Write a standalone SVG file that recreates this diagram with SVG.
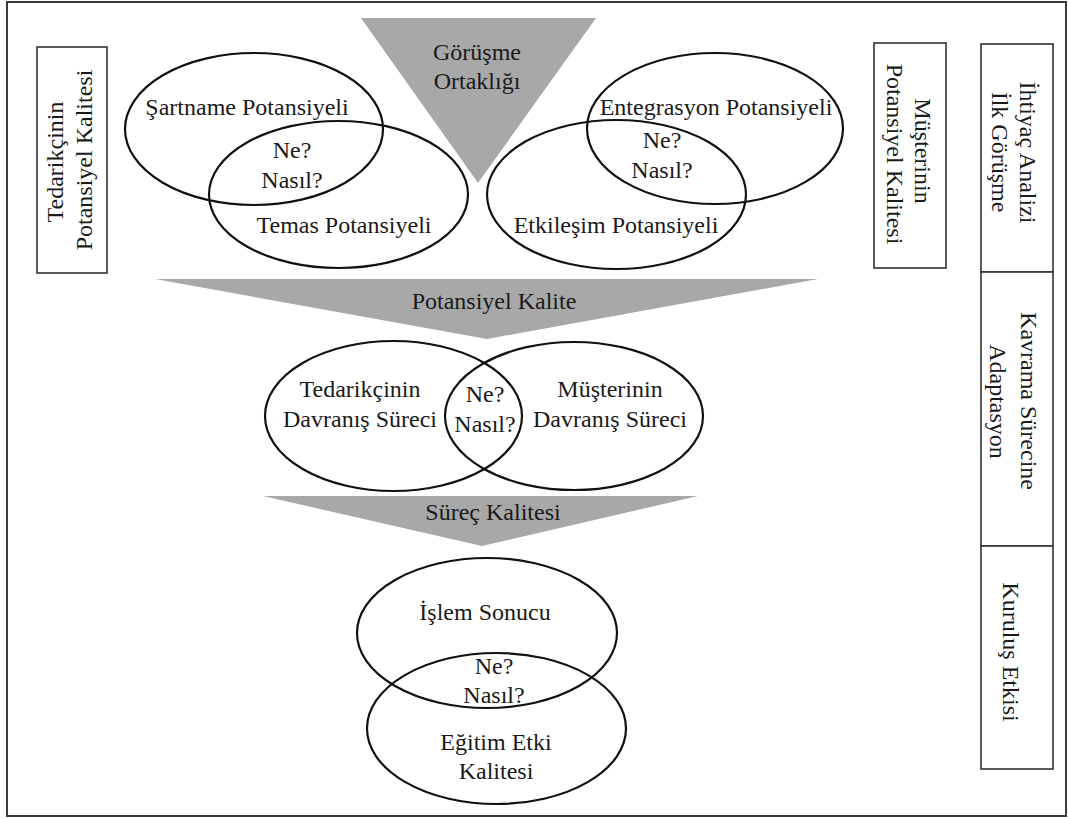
<svg xmlns="http://www.w3.org/2000/svg" width="1068" height="818" viewBox="0 0 1068 818">
<style>
text{font-family:"Liberation Serif","Times New Roman",serif;font-size:24px;fill:#1a1a1a;text-anchor:middle}
.ell{fill:none;stroke:#111;stroke-width:2.2}
.box{fill:#fff;stroke:#333;stroke-width:1.6}
.band{fill:#a8a8a8;stroke:none}
</style>
<rect x="7" y="2" width="1059" height="814" fill="#fff" stroke="#3a3a3a" stroke-width="2"/>
<g id="connectors"/>
<g id="gorusme-ortakligi">
<polygon class="band" points="361,18 596,18 478,183"/>
<text x="477" y="60">Görüşme</text>
<text x="477" y="89">Ortaklığı</text>
</g>
<g id="tedarikcinin-box">
<rect class="box" x="37" y="47" width="70" height="226"/>
<text transform="translate(63,162) rotate(-90)">Tedarikçinin</text>
<text transform="translate(92,160) rotate(-90)">Potansiyel Kalitesi</text>
</g>
<g id="sartname">
<ellipse class="ell" cx="254" cy="129" rx="129" ry="76"/>
<text x="247" y="115">Şartname Potansiyeli</text>
</g>
<g id="temas">
<ellipse class="ell" cx="338.5" cy="194.5" rx="129.5" ry="73.5"/>
<text x="344" y="233">Temas Potansiyeli</text>
</g>
<g id="ne-nasil-left">
<text x="292" y="158">Ne?</text>
<text x="292" y="188">Nasıl?</text>
</g>
<g id="entegrasyon">
<ellipse class="ell" cx="715" cy="128.5" rx="128" ry="75.5"/>
<text x="716" y="115">Entegrasyon Potansiyeli</text>
</g>
<g id="etkilesim">
<ellipse class="ell" cx="616.5" cy="194.5" rx="129.5" ry="74.5"/>
<text x="616" y="233">Etkileşim Potansiyeli</text>
</g>
<g id="ne-nasil-right">
<text x="662" y="148">Ne?</text>
<text x="662" y="178">Nasıl?</text>
</g>
<g id="musterinin-box">
<rect class="box" x="874" y="43" width="72" height="225"/>
<text transform="translate(915,151) rotate(90)">Müşterinin</text>
<text transform="translate(887,154) rotate(90)">Potansiyel Kalitesi</text>
</g>
<g id="phase-column">
<rect class="box" x="981" y="44" width="72" height="228"/>
<rect class="box" x="981" y="272" width="72" height="274"/>
<rect class="box" x="981" y="546" width="72" height="223"/>
<text transform="translate(1020,152.5) rotate(90)">İhtiyaç Analizi</text>
<text transform="translate(992,152) rotate(90)">İlk Görüşme</text>
<text transform="translate(1021,401) rotate(90)">Kavrama Sürecine</text>
<text transform="translate(990,401.5) rotate(90)">Adaptasyon</text>
<text transform="translate(1003,652) rotate(90)">Kuruluş Etkisi</text>
</g>
<g id="potansiyel-kalite">
<polygon class="band" points="155,279 818,279 487,339"/>
<text x="494" y="309">Potansiyel Kalite</text>
</g>
<g id="tedarikcinin-davranis">
<ellipse class="ell" cx="393.5" cy="416" rx="128.5" ry="75"/>
<text x="360" y="397">Tedarikçinin</text>
<text x="360" y="427">Davranış Süreci</text>
</g>
<g id="musterinin-davranis">
<ellipse class="ell" cx="574" cy="416" rx="129" ry="74"/>
<text x="610" y="397">Müşterinin</text>
<text x="610" y="427">Davranış Süreci</text>
</g>
<g id="ne-nasil-middle">
<text x="485" y="402">Ne?</text>
<text x="485" y="432">Nasıl?</text>
</g>
<g id="surec-kalitesi">
<polygon class="band" points="263,496 698,496 482,546"/>
<text x="493" y="520">Süreç Kalitesi</text>
</g>
<g id="islem-sonucu">
<ellipse class="ell" cx="487" cy="633" rx="130" ry="75"/>
<text x="485" y="620">İşlem Sonucu</text>
</g>
<g id="egitim-etki">
<ellipse class="ell" cx="496.5" cy="728.5" rx="129.5" ry="75.5"/>
<text x="496" y="750">Eğitim Etki</text>
<text x="496" y="779">Kalitesi</text>
</g>
<g id="ne-nasil-bottom">
<text x="494" y="674">Ne?</text>
<text x="494" y="703">Nasıl?</text>
</g>
</svg>
